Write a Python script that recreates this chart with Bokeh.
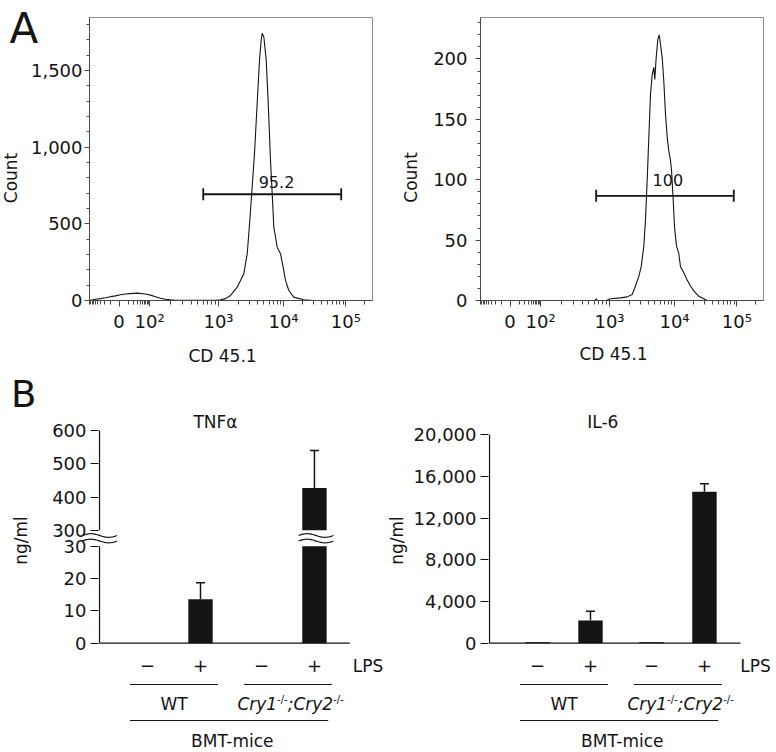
import numpy as np
from bokeh.plotting import figure
from bokeh.models import FixedTicker, SingleIntervalTicker, NumeralTickFormatter
from bokeh.layouts import column, row
from bokeh.embed import file_html
from bokeh.resources import INLINE
from bokeh.core.properties import value

FONT = "DejaVu Sans"
INK = "#141414"
AXIS_GREY = "#4a4a4a"
FRAME_GREY = "#8f8f8f"
TICK_FS = "18px"

# ---------------- Panel A data: CD45.1 flow histograms ----------------
cd45_tick_values = [0, 1e2, 1e3, 1e4, 1e5]
cd45_tick_labels = ["0", "10²", "10³", "10⁴", "10⁵"]
cd45_minor_values = ([-v for v in range(10, 100, 10)] + list(range(10, 100, 10))
                     + list(range(200, 1000, 100)) + list(range(2000, 10000, 1000))
                     + list(range(20000, 100000, 10000)) + [200000])

# x = display channel (decades of the biexponential scale), y = cell count
hist1_channel = [1.015, 1.108, 1.185, 1.262, 1.338, 1.415, 1.492, 1.569, 1.646, 1.754,
                 1.877, 1.954, 2.031, 2.108, 2.185, 2.262, 2.338, 2.492, 2.646, 2.800,
                 2.954, 3.031, 3.108, 3.185, 3.288, 3.389, 3.442, 3.482, 3.518, 3.554,
                 3.595, 3.631, 3.657, 3.672, 3.697, 3.734, 3.765, 3.800, 3.826, 3.851,
                 3.877, 3.903, 3.954, 3.995, 4.031, 4.082, 4.158, 4.312, 4.450, 5.369]
hist1_count = [0, 8, 12, 18, 25, 30, 38, 42, 45, 48,
               42, 35, 25, 15, 8, 4, 2, 1, 2, 1,
               2, 5, 12, 33, 87, 174, 305, 523, 740, 960,
               1286, 1569, 1700, 1743, 1720, 1569, 1286, 915, 697, 479,
               414, 348, 305, 218, 131, 65, 22, 5, 0, 0]
gate1_channel = [2.765, 4.888]
gate1_count = 693
gate1_label = "95.2"

hist2_channel = [1.015, 2.780, 2.795, 2.810, 2.950, 3.015, 3.169, 3.272, 3.349, 3.400,
                 3.451, 3.488, 3.528, 3.554, 3.580, 3.605, 3.631, 3.657, 3.682, 3.697,
                 3.718, 3.743, 3.765, 3.785, 3.811, 3.835, 3.862, 3.888, 3.912, 3.938,
                 3.954, 3.980, 4.000, 4.031, 4.066, 4.092, 4.143, 4.195, 4.246, 4.297,
                 4.374, 4.503, 5.369]
hist2_count = [0, 0, 1.5, 0, 0, 1.4, 2.2, 3, 5, 12,
               20, 28, 45, 67, 100, 135, 171, 187, 193, 183,
               201, 216, 220, 212, 201, 182, 154, 135, 124, 116,
               108, 83, 61, 45, 39, 28, 23, 17, 12, 8,
               3.5, 0, 0]
gate2_channel = [2.795, 4.912]
gate2_count = 86.7
gate2_label = "100"

# ---------------- Panel B data: cytokines (ng/ml) ----------------
lps = ["−", "+", "−", "+"]
groups = ["WT", "Cry"]
tnf_mean = [0, 13.6, 0, 427]
tnf_sem = [0, 5.1, 0, 113]
tnf_ticks = [0, 10, 20, 30, 300, 400, 500, 600]
il6_mean = [100, 2180, 100, 14530]
il6_sem = [0, 890, 0, 770]
il6_ticks = [0, 4000, 8000, 12000, 16000, 20000]

# ---------------- layout constants ----------------
BIEX_ANCHOR_POS = [1.47, 1.94, 3.0, 4.0, 4.96]
SLOT_X = [1.0, 2.0, 3.15, 4.15]
GROUP_SLOTS = [(0, 1), (2, 3)]
BAR_W = 0.46
CAP_HALF = 0.085
TNF_LO, TNF_HI, TNF_GAP, TNF_HI_SCALE = 30.0, 300.0, 4.95, 0.1031


def biex(v):
    v = np.atleast_1d(np.asarray(v, dtype=float))
    a = np.arcsinh(np.abs(v) / 10.0)
    A = np.arcsinh(np.asarray(cd45_tick_values) / 10.0)
    P = np.asarray(BIEX_ANCHOR_POS)
    out = np.interp(a, A, P)
    hi = a > A[-1]
    out[hi] = P[-1] + (a[hi] - A[-1]) * (P[-1] - P[-2]) / (A[-1] - A[-2])
    neg = v < 0
    out[neg] = 2 * P[0] - out[neg]
    return np.round(out, 4)


def tnf_disp(v):
    v = np.asarray(v, dtype=float)
    return np.round(np.where(v <= TNF_LO, v, TNF_LO + TNF_GAP + (v - TNF_HI) * TNF_HI_SCALE), 4)


# page-pixel -> data helpers for each panel
def dx1(px): return 3 + (px - 218) / 65.0
def dy1(py): return (300 - py) / 0.15333
def dx2(px): return 3 + (px - 609) / 65.0
def dy2(py): return (301 - py) / 1.212
def dx3(px): return 1 + (px - 147) / 53.0
def dy3(py): return (642.7 - py) / 3.23
IL6_PX = 41.67 / 4000.0
def dx4(px): return 1 + (px - 537) / 53.0
def dy4(py): return (642.7 - py) / IL6_PX


def base_fig(w, h, xr, yr, mbl, mbr, mbt, mbb, xloc="below"):
    p = figure(width=w, height=h, x_range=xr, y_range=yr, output_backend="svg",
               toolbar_location=None, tools="", x_axis_location=xloc)
    p.min_border_left, p.min_border_right = mbl, mbr
    p.min_border_top, p.min_border_bottom = mbt, mbb
    p.grid.visible = False
    p.background_fill_color = "white"
    p.border_fill_color = "white"
    return p


def style_hist_axes(p, yint):
    xa = p.xaxis[0]
    maj = [float(t) for t in biex(cd45_tick_values)]
    mnr = [float(t) for t in biex(cd45_minor_values)]
    xa.ticker = FixedTicker(ticks=maj, minor_ticks=mnr)
    xa.major_label_overrides = {t: lab for t, lab in zip(maj, cd45_tick_labels)}
    ya = p.yaxis[0]
    ya.ticker = SingleIntervalTicker(interval=yint, num_minor_ticks=5)
    ya.formatter = NumeralTickFormatter(format="0,0")
    for ax in (xa, ya):
        ax.major_label_text_font = FONT
        ax.major_label_text_font_size = TICK_FS
        ax.major_label_text_color = INK
        ax.axis_line_color = AXIS_GREY
        ax.major_tick_line_color = AXIS_GREY
        ax.minor_tick_line_color = AXIS_GREY
        ax.major_tick_in = 0
        ax.minor_tick_in = 0
    xa.major_tick_out = 6
    xa.minor_tick_out = 4
    xa.major_label_standoff = 4
    ya.major_tick_out = 5
    ya.minor_tick_out = 3
    p.outline_line_color = FRAME_GREY


def add_text(p, x, y, text, size, angle=0.0, align="center", baseline="middle", style="normal"):
    # overlay level so that texts in the plot margins are not clipped to the frame
    p.text(x=[x], y=[y], text=[text], text_font=value(FONT), text_font_size=size,
           text_color=INK, text_align=align, text_baseline=baseline, angle=angle,
           text_font_style=style, level="overlay")


# ---------------- Panel A, left ----------------
p1 = base_fig(388, 368, (dx1(89), dx1(372)), (0, dy1(17)), 89, 16, 17, 68)
style_hist_axes(p1, 500)
p1.yaxis[0].major_label_standoff = 2
p1.line(hist1_channel, hist1_count, line_color=INK, line_width=1.1)
cap1 = 6 / 0.15333
p1.segment(x0=[gate1_channel[0], gate1_channel[0], gate1_channel[1]],
           y0=[gate1_count, gate1_count - cap1, gate1_count - cap1],
           x1=[gate1_channel[1], gate1_channel[0], gate1_channel[1]],
           y1=[gate1_count, gate1_count + cap1, gate1_count + cap1],
           line_color=INK, line_width=1.8)
add_text(p1, dx1(276), dy1(181.7), gate1_label, "16px")
add_text(p1, dx1(9), dy1(27.5), "A", "42px", align="left")
add_text(p1, dx1(10), dy1(177.5), "Count", "17px", angle=np.pi / 2)
add_text(p1, dx1(222), dy1(355), "CD 45.1", "17px")

# ---------------- Panel A, right ----------------
p2 = base_fig(388, 368, (dx2(480), dx2(763)), (0, dy2(17)), 92, 13, 17, 67)
style_hist_axes(p2, 50)
p2.yaxis[0].major_label_standoff = 8
p2.line(hist2_channel, hist2_count, line_color=INK, line_width=1.1)
cap2 = 6 / 1.212
p2.segment(x0=[gate2_channel[0], gate2_channel[0], gate2_channel[1]],
           y0=[gate2_count, gate2_count - cap2, gate2_count - cap2],
           x1=[gate2_channel[1], gate2_channel[0], gate2_channel[1]],
           y1=[gate2_count, gate2_count + cap2, gate2_count + cap2],
           line_color=INK, line_width=1.8)
add_text(p2, dx2(667.3), dy2(180), gate2_label, "16px")
add_text(p2, dx2(410.5), dy2(177.5), "Count", "17px", angle=np.pi / 2)
add_text(p2, dx2(613), dy2(355), "CD 45.1", "17px")


# ---------------- Panel B helpers ----------------
def style_bar_axis(p, tick_pos, tick_labels):
    ya = p.yaxis[0]
    ya.ticker = FixedTicker(ticks=tick_pos, minor_ticks=[])
    ya.major_label_overrides = {t: lab for t, lab in zip(tick_pos, tick_labels)}
    ya.axis_line_color = None
    ya.major_tick_line_color = INK
    ya.major_tick_line_width = 1.2
    ya.minor_tick_line_color = None
    ya.major_tick_out = 8
    ya.major_tick_in = 0
    ya.major_label_standoff = 4
    ya.major_label_text_font = FONT
    ya.major_label_text_font_size = TICK_FS
    ya.major_label_text_color = INK
    p.outline_line_color = None


def wave(x_a, x_b, yc, amp, n=40):
    t = np.linspace(0, 1, n)
    return list(x_a + (x_b - x_a) * t), list(yc + amp * np.sin(2 * np.pi * t))


def annotate_groups(p, dx, dy, lps_x, title, title_x):
    txt = dict(text_font=value(FONT), text_color=INK, text_align="center", text_baseline="middle")
    p.text(x=SLOT_X, y=[dy(665)] * 4, text=lps, text_font_size="18px", **txt)
    p.text(x=[lps_x], y=[dy(665)], text=["LPS"], text_font_size="17px", **txt)
    half = 0.83
    centers = [(SLOT_X[a] + SLOT_X[b]) / 2 for a, b in GROUP_SLOTS]
    p.segment(x0=[c - half for c in centers], y0=[dy(684)] * 2,
              x1=[c + half for c in centers], y1=[dy(684)] * 2, line_color=INK, line_width=1.2)
    p.segment(x0=[centers[0] - half], y0=[dy(720)], x1=[centers[1] + half - 0.07], y1=[dy(720)],
              line_color=INK, line_width=1.2)
    p.text(x=[centers[0]], y=[dy(703.3)], text=[groups[0]], text_font_size="17px", **txt)
    # Cry1-/-;Cry2-/-  (italic with superscripts)
    widths_px = [39.7, 10.6, 45.5, 10.6]
    pieces = ["Cry1", "-/-", ";Cry2", "-/-"]
    start = centers[1] + 0.05 - sum(widths_px) / 2 / 53.0
    xs = []
    acc = start
    for w in widths_px:
        xs.append(acc)
        acc += w / 53.0
    p.text(x=[xs[0], xs[2]], y=[dy(703.3)] * 2, text=[pieces[0], pieces[2]],
           text_font=value(FONT), text_font_size="17px", text_font_style="italic",
           text_color=INK, text_align="left", text_baseline="middle")
    p.text(x=[xs[1], xs[3]], y=[dy(698.5)] * 2, text=[pieces[1], pieces[3]],
           text_font=value(FONT), text_font_size="10px", text_color=INK,
           text_align="left", text_baseline="middle")
    p.text(x=[2.6], y=[dy(740)], text=["BMT-mice"], text_font_size="17px", **txt)
    p.text(x=[title_x], y=[dy(421.7)], text=[title], text_font_size="17px", **txt)


# ---------------- Panel B, TNFa (broken axis) ----------------
p3 = base_fig(388, 384, (dx3(98), dx3(388)), (dy3(752), dy3(368)), 98, 0, 0, 0, xloc=None)
tnf_tick_pos = [float(t) for t in tnf_disp(tnf_ticks)]
style_bar_axis(p3, tnf_tick_pos, [str(t) for t in tnf_ticks])
ax3 = dx3(99)
p3.segment(x0=[ax3, ax3], y0=[float(tnf_disp(tnf_ticks[0])), float(tnf_disp(TNF_HI))],
           x1=[ax3, ax3], y1=[float(tnf_disp(TNF_LO)), float(tnf_disp(tnf_ticks[-1]))],
           line_color=INK, line_width=1.3)
p3.segment(x0=[ax3], y0=[0], x1=[dx3(349.3)], y1=[0], line_color=INK, line_width=1.3)
tm = np.asarray(tnf_mean, float)
ts = np.asarray(tnf_sem, float)
sx = np.asarray(SLOT_X)
p3.quad(left=sx - BAR_W / 2, right=sx + BAR_W / 2, bottom=0,
        top=tnf_disp(np.minimum(tm, TNF_LO)), fill_color=INK, line_color=None)
up = tm > TNF_HI
p3.quad(left=sx[up] - BAR_W / 2, right=sx[up] + BAR_W / 2,
        bottom=float(tnf_disp(TNF_HI)), top=tnf_disp(tm[up]), fill_color=INK, line_color=None)
e = ts > 0
p3.segment(x0=sx[e], y0=tnf_disp(tm[e]), x1=sx[e], y1=tnf_disp(tm[e] + ts[e]),
           line_color=INK, line_width=1.5)
p3.segment(x0=sx[e] - CAP_HALF, y0=tnf_disp(tm[e] + ts[e]), x1=sx[e] + CAP_HALF,
           y1=tnf_disp(tm[e] + ts[e]), line_color=INK, line_width=1.5)
amp = 1.8 / 3.23
for xa_, xb_ in [(dx3(81.7), dx3(116.7)), (dx3(298), dx3(333))]:
    for yc in (dy3(535), dy3(540.5)):
        wx, wy = wave(xa_, xb_, yc, amp)
        p3.line(wx, wy, line_color=INK, line_width=1.2, level="overlay")
annotate_groups(p3, dx3, dy3, dx3(367.5), "TNFα", dx3(215))
add_text(p3, dx3(10.5), dy3(393.5), "B", "37px", align="left")
add_text(p3, dx3(20), dy3(540), "ng/ml", "17px", angle=np.pi / 2)

# ---------------- Panel B, IL-6 ----------------
p4 = base_fig(388, 384, (dx4(488), dx4(776)), (dy4(752), dy4(368)), 100, 0, 0, 0, xloc=None)
style_bar_axis(p4, [float(t) for t in il6_ticks], [f"{t:,}" for t in il6_ticks])
ax4 = dx4(489)
p4.segment(x0=[ax4], y0=[il6_ticks[0]], x1=[ax4], y1=[il6_ticks[-1]], line_color=INK, line_width=1.3)
p4.segment(x0=[ax4], y0=[0], x1=[dx4(740)], y1=[0], line_color=INK, line_width=1.3)
im = np.asarray(il6_mean, float)
isd = np.asarray(il6_sem, float)
p4.quad(left=sx - BAR_W / 2, right=sx + BAR_W / 2, bottom=0, top=im, fill_color=INK, line_color=None)
e4 = isd > 0
p4.segment(x0=sx[e4], y0=im[e4], x1=sx[e4], y1=im[e4] + isd[e4], line_color=INK, line_width=1.5)
p4.segment(x0=sx[e4] - CAP_HALF, y0=im[e4] + isd[e4], x1=sx[e4] + CAP_HALF, y1=im[e4] + isd[e4],
           line_color=INK, line_width=1.5)
annotate_groups(p4, dx4, dy4, dx4(755), "IL-6", dx4(602.3))
add_text(p4, dx4(396), dy4(540), "ng/ml", "17px", angle=np.pi / 2)

layout = column(row(p1, p2), row(p3, p4))
open("out.html", "w").write(file_html(layout, INLINE))
